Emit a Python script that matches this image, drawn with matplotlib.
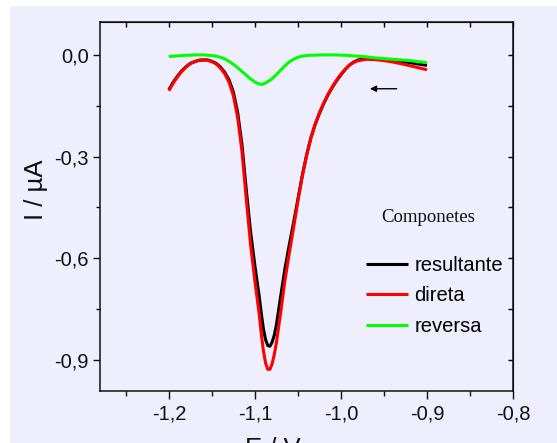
import matplotlib
matplotlib.use("Agg")
import matplotlib.pyplot as plt
from matplotlib.ticker import MultipleLocator, FuncFormatter
from matplotlib.patches import Rectangle

# ---------------- data ----------------
potential = [-1.200, -1.195, -1.190, -1.185, -1.180, -1.175, -1.170, -1.165, -1.160,
             -1.155, -1.150, -1.145, -1.140, -1.135, -1.130, -1.125, -1.120, -1.115,
             -1.110, -1.105, -1.100, -1.095, -1.0925, -1.090, -1.0875, -1.085, -1.0825,
             -1.080, -1.0775, -1.075, -1.070, -1.065, -1.060, -1.055, -1.050, -1.045,
             -1.040, -1.035, -1.030, -1.025, -1.020, -1.015, -1.010, -1.005, -1.000,
             -0.995, -0.990, -0.985, -0.980, -0.970, -0.960, -0.950, -0.940, -0.930,
             -0.920, -0.910, -0.900]

direta = [-0.106, -0.084, -0.065, -0.049, -0.036, -0.026, -0.020, -0.016, -0.015,
          -0.016, -0.020, -0.027, -0.039, -0.056, -0.081, -0.120, -0.185, -0.285,
          -0.425, -0.560, -0.667, -0.765, -0.825, -0.875, -0.910, -0.928, -0.928,
          -0.912, -0.885, -0.850, -0.760, -0.665, -0.585, -0.510, -0.432, -0.360,
          -0.298, -0.246, -0.205, -0.171, -0.142, -0.116, -0.094, -0.074, -0.057,
          -0.042, -0.030, -0.022, -0.017, -0.013, -0.014, -0.017, -0.021, -0.026,
          -0.032, -0.038, -0.044]

resultante = [-0.103, -0.081, -0.063, -0.047, -0.035, -0.025, -0.020, -0.016, -0.015,
              -0.015, -0.019, -0.025, -0.036, -0.052, -0.074, -0.110, -0.170, -0.265,
              -0.398, -0.522, -0.622, -0.712, -0.764, -0.810, -0.841, -0.858, -0.860,
              -0.848, -0.828, -0.797, -0.712, -0.630, -0.560, -0.495, -0.426, -0.357,
              -0.297, -0.246, -0.206, -0.173, -0.144, -0.118, -0.096, -0.076, -0.059,
              -0.043, -0.030, -0.021, -0.015, -0.011, -0.011, -0.013, -0.016, -0.019,
              -0.023, -0.027, -0.031]

reversa = [-0.005, -0.004, -0.003, -0.002, -0.001, -0.001, 0.000, 0.000, 0.000,
           -0.001, -0.002, -0.004, -0.007, -0.012, -0.019, -0.028, -0.038, -0.049,
           -0.060, -0.071, -0.080, -0.086, -0.087, -0.086, -0.083, -0.079, -0.075,
           -0.070, -0.064, -0.058, -0.045, -0.032, -0.021, -0.013, -0.007, -0.004,
           -0.002, -0.001, -0.001, 0.000, 0.000, 0.000, 0.000, 0.000, -0.001,
           -0.001, -0.002, -0.003, -0.004, -0.006, -0.009, -0.011, -0.013, -0.015,
           -0.017, -0.020, -0.023]

series_labels = ["resultante", "direta", "reversa"]
legend_title = "Componetes"
x_label = "E / V"
y_label = "I / \u00b5A"
x_ticks = [-1.2, -1.1, -1.0, -0.9, -0.8]
y_ticks = [0.0, -0.3, -0.6, -0.9]

# arrow (scan direction)
arrow_tail = (-0.9352, -0.100)
arrow_head = (-0.9663, -0.100)

# ---------------- style ----------------
BG = "#EEEEFD"
W, H = 557, 443
plt.rcParams['font.family'] = ['Liberation Sans', 'DejaVu Sans']

fig = plt.figure(figsize=(W / 100, H / 100), dpi=100, facecolor="white")
fig.patches.append(Rectangle((9.5 / W, 0), 1 - 9.5 / W, (H - 6) / H,
                             transform=fig.transFigure, facecolor=BG,
                             edgecolor="none", zorder=-10))

ax = fig.add_axes([100 / W, 1 - 391 / H, (513 - 100) / W, (391 - 22) / H])
ax.set_facecolor(BG)

line_kw = dict(lw=2.2, solid_joinstyle="round", solid_capstyle="butt")
ax.plot(potential, resultante, color="black", label=series_labels[0], zorder=3, **line_kw)
ax.plot(potential, direta, color="#FF0000", label=series_labels[1], zorder=4, **line_kw)
ax.plot(potential, reversa, color="#00FF00", label=series_labels[2], zorder=5, **line_kw)

ax.annotate("", xy=arrow_head, xytext=arrow_tail,
            arrowprops=dict(arrowstyle="-|>", color="black", lw=1.0,
                            mutation_scale=9, shrinkA=0, shrinkB=0))

ax.set_xlim(-1.28, -0.8)
ax.set_ylim(-0.992, 0.097)

fmt = FuncFormatter(lambda v, p: f"{v:.1f}".replace(".", ",").replace("\u2212", "-"))
ax.set_xticks(x_ticks)
ax.set_yticks(y_ticks)
ax.xaxis.set_major_formatter(fmt)
ax.yaxis.set_major_formatter(fmt)
ax.xaxis.set_minor_locator(MultipleLocator(0.05))
ax.yaxis.set_minor_locator(MultipleLocator(0.15))

for s in ax.spines.values():
    s.set_linewidth(1.1)
    s.set_color("#111111")

ax.tick_params(axis="both", which="both", labelsize=14.5, width=1.0, colors="#111111")
ax.tick_params(axis="x", which="major", direction="out", length=6, pad=4)
ax.tick_params(axis="x", which="minor", direction="out", length=3.5)
ax.tick_params(axis="y", which="major", direction="out", length=5, pad=3)
ax.tick_params(axis="y", which="minor", direction="out", length=3)
ax.tick_params(top=False, right=False, which="both")

# top/right: inward ticks without labels
secx = ax.secondary_xaxis("top")
secx.set_xticks(x_ticks)
secx.xaxis.set_minor_locator(MultipleLocator(0.05))
secx.tick_params(which="both", direction="in", length=3.5, labeltop=False, width=1.0)
secy = ax.secondary_yaxis("right")
secy.set_yticks(y_ticks)
secy.yaxis.set_minor_locator(MultipleLocator(0.15))
secy.tick_params(which="both", direction="in", length=3.5, labelright=False, width=1.0)

fig.text(36 / W, 1 - 190 / H, y_label, rotation=90, ha="center", va="center",
         fontsize=18.5, color="#111111")
fig.text(273 / W, 1 - 437 / H, x_label, ha="center", va="top",
         fontsize=18.5, color="#111111")

leg = ax.legend(loc="upper left", bbox_to_anchor=(366 / W, 1 - 256 / H),
                bbox_transform=fig.transFigure, frameon=False, fontsize=14.5,
                handlelength=2.1, handletextpad=0.3, labelspacing=0.56,
                borderpad=0, borderaxespad=0)
for h in leg.get_lines():
    h.set_linewidth(2.2)

fig.text(428 / W, 1 - 217 / H, legend_title, ha="center", va="center",
         fontsize=13.5, family=["Liberation Serif", "DejaVu Serif"], color="#111111")

fig.savefig("out.png", dpi=100, facecolor=fig.get_facecolor())
